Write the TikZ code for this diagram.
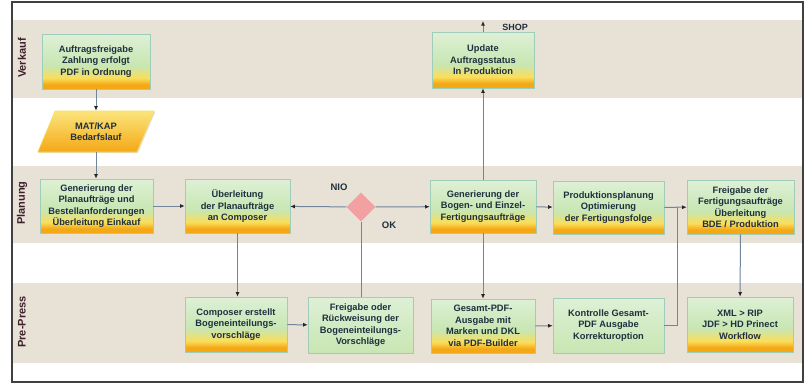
\documentclass[tikz,border=0pt]{standalone}
\usepackage{fontspec}
\setmainfont{Liberation Sans}
\usepackage{xcolor}
\usepackage{tikz}
\usetikzlibrary{arrows.meta}
\usetikzlibrary{shapes.geometric}
\usetikzlibrary{shadows}
\usetikzlibrary{positioning}
\definecolor{LaneBg}{RGB}{232,226,214}
\definecolor{LaneText}{RGB}{62,32,44}
\definecolor{BoxText}{RGB}{30,48,62}
\definecolor{BoxRand}{RGB}{160,205,185}
\definecolor{BoxGreenTop}{RGB}{222,240,214}
\definecolor{BoxGreenLow}{RGB}{200,230,178}
\definecolor{BoxYellow}{RGB}{250,222,90}
\definecolor{BoxOrange}{RGB}{244,168,22}
\definecolor{Linie}{RGB}{112,132,156}
\definecolor{Raute}{RGB}{242,160,162}
\pgfdeclareverticalshading{boxshade}{100bp}{color(0bp)=(BoxOrange); color(25bp)=(BoxOrange); color(29bp)=(BoxOrange); color(35bp)=(BoxYellow); color(46bp)=(BoxGreenLow); color(75bp)=(BoxGreenTop); color(100bp)=(BoxGreenTop)}
\tikzset{
  MyBox/.style={
    rectangle, draw=BoxRand, line width=0.6pt,
    shading=boxshade,
    drop shadow={shadow xshift=1pt, shadow yshift=-1pt, opacity=0.25},
    text=BoxText, align=center,
    font=\fontsize{9.3}{11.5}\selectfont\bfseries,
  },
  MyGreenBox/.style={
    MyBox, top color=BoxGreenTop, bottom color=BoxGreenLow,
  },
  MyPara/.style={
    trapezium, trapezium left angle=64, trapezium right angle=116,
    trapezium stretches=true,
    draw=BoxYellow, line width=0.6pt,
    top color=BoxYellow!80!white, bottom color=BoxOrange,
    drop shadow={shadow xshift=1pt, shadow yshift=-1pt, opacity=0.25},
    text=BoxText, align=center,
    font=\fontsize{9.3}{11.5}\selectfont\bfseries,
  },
  MyRaute/.style={
    diamond, fill=Raute, draw=none,
    minimum width=29pt, minimum height=29pt, inner sep=0pt,
  },
  MyLane/.style={
    rotate=90, text=LaneText, font=\fontsize{11}{12}\selectfont\bfseries,
  },
  MyLabel/.style={
    text=BoxText, font=\fontsize{9.5}{11.5}\selectfont\bfseries,
  },
  MyLine/.style={draw=Linie, line width=1pt},
  MyArrow/.style={MyLine, -{Latex[length=4.5pt, width=4pt, color=black!85]}},
}
\begin{document}
\begin{tikzpicture}[x=1pt, y=-1pt]
\useasboundingbox (0,0) rectangle (807,384);
\fill[white] (0,0) rectangle (807,384);
\fill[LaneBg] (13,20) rectangle (802,98);
\fill[LaneBg] (13,166) rectangle (802,243);
\fill[LaneBg] (13,283) rectangle (802,363);
\draw[black!75, line width=1.6pt] (12,2) rectangle (803,382);
\node[MyLane] (VERK) at (22,58) {Verkauf};
\node[MyLane] (PLAN) at (22,203) {Planung};
\node[MyLane] (PREP) at (22,322) {Pre-Press};

\node[MyBox, minimum width=108pt, minimum height=55pt] (AUF) at (96,61.5) {Auftragsfreigabe\\Zahlung erfolgt\\PDF in Ordnung};
\node[MyPara, minimum width=117pt, minimum height=41pt] (MAT) at (96,131.5) {MAT/KAP\\Bedarfslauf};
\node[MyBox, minimum width=102pt, minimum height=56pt] (UPD) at (483,60) {Update\\Auftragsstatus\\In Produktion};
\node[MyBox, minimum width=113pt, minimum height=54pt] (GPL) at (96.5,206) {Generierung der\\Planaufträge und\\Bestellanforderungen\\Überleitung Einkauf};
\node[MyBox, minimum width=105pt, minimum height=54pt] (UEB) at (237.5,206) {Überleitung\\der Planaufträge\\an Composer};
\node[MyRaute] (RAUTE) at (361,207) {};
\node[MyBox, minimum width=106pt, minimum height=53pt] (GBE) at (483,206.5) {Generierung der\\Bogen- und Einzel-\\Fertigungsaufträge};
\node[MyBox, minimum width=111pt, minimum height=53pt] (PPL) at (608.5,207.5) {Produktionsplanung\\Optimierung\\der Fertigungsfolge};
\node[MyBox, minimum width=107pt, minimum height=54pt] (FFA) at (740.5,207) {Freigabe der\\Fertigungsaufträge\\Überleitung\\BDE / Produktion};
\node[MyBox, minimum width=102pt, minimum height=55pt] (COMP) at (236,324.5) {Composer erstellt\\Bogeneinteilungs-\\vorschläge};
\node[MyGreenBox, minimum width=105pt, minimum height=56pt] (FREI) at (360.5,325) {Freigabe oder\\Rückweisung der\\Bogeneinteilungs-\\Vorschläge};
\node[MyBox, minimum width=104pt, minimum height=54pt] (GPDF) at (483,326) {Gesamt-PDF-\\Ausgabe mit\\Marken und DKL\\via PDF-Builder};
\node[MyGreenBox, minimum width=111pt, minimum height=55pt] (KON) at (608.5,325.5) {Kontrolle Gesamt-\\PDF Ausgabe\\Korrekturoption};
\node[MyBox, minimum width=106pt, minimum height=55pt] (XML) at (740,324.5) {XML > RIP\\JDF > HD Prinect\\Workflow};

\node[MyLabel] (NIO) at (339,187) {NIO};
\node[MyLabel] (OK) at (389,225) {OK};
\node[MyLabel, font=\fontsize{9}{10}\selectfont\bfseries] (SHOP) at (515,27) {SHOP};
\coordinate (SHOPZIEL) at (483,21);
\coordinate (KNICK) at (677,0);

\draw[MyArrow] (AUF.south) to (AUF.south |- MAT.north);
\draw[MyArrow] (MAT.south) to (MAT.south |- GPL.north);
\draw[MyArrow] (GPL) to (UEB);
\draw[MyArrow] (RAUTE) to (UEB);
\draw[MyArrow] (RAUTE) to (GBE);
\draw[MyArrow] (UEB.south) to (UEB.south |- COMP.north);
\draw[MyArrow] (COMP) to (FREI);
\draw[MyLine] (RAUTE.south |- FREI.north) to (RAUTE.south);
\draw[MyArrow] (GBE.north) to (UPD.south);
\draw[MyArrow] (UPD.north) to (SHOPZIEL);
\draw[MyArrow] (GBE.south) to (GPDF.north);
\draw[MyArrow] (GBE) to (PPL);
\draw[MyArrow] (PPL) to (FFA);
\draw[MyArrow] (GPDF) to (KON);
\draw[MyLine] (KON.east) -| (KNICK |- FFA.west);
\draw[MyArrow] (FFA) to (XML);
\end{tikzpicture}
\end{document}
